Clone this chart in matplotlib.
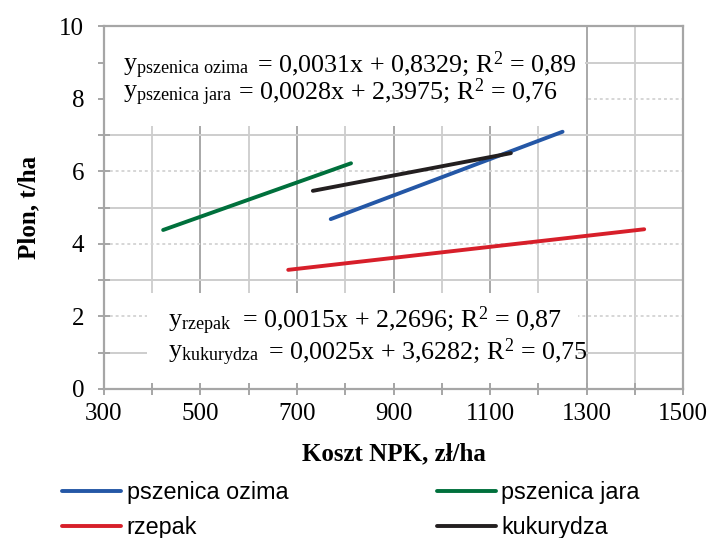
import matplotlib
matplotlib.use("Agg")
import matplotlib.pyplot as plt
import numpy as np
from matplotlib.patches import Rectangle
from matplotlib.ticker import FixedLocator

# data
series = ["pszenica ozima", "pszenica jara", "rzepak", "kukurydza"]
cost_start = [770, 423, 682, 733]
cost_end = [1250, 812, 1419, 1143]
yield_start = [4.68, 4.38, 3.28, 5.46]
yield_end = [7.09, 6.22, 4.40, 6.50]
colors = ["#2457A6", "#00703C", "#D71F2A", "#231F20"]

x_major = np.arange(300, 1501, 200)
x_minor = np.arange(400, 1500, 200)
y_major = np.arange(0, 11, 2)
y_minor = np.arange(1, 10, 2)

# trendline labels: left part (y with subscript) and right part (equation)
eq_lhs = [
    r"$\mathrm{y}_{\mathrm{pszenica\ ozima}}$",
    r"$\mathrm{y}_{\mathrm{pszenica\ jara}}$",
    r"$\mathrm{y}_{\mathrm{rzepak}}$",
    r"$\mathrm{y}_{\mathrm{kukurydza}}$",
]
eq_rhs = [
    "= 0,0031x + 0,8329; R$^{2}$ = 0,89",
    "= 0,0028x + 2,3975; R$^{2}$ = 0,76",
    "= 0,0015x + 2,2696; R$^{2}$ = 0,87",
    "= 0,0025x + 3,6282; R$^{2}$ = 0,75",
]

plt.rcParams["font.family"] = "Liberation Serif"
plt.rcParams["mathtext.fontset"] = "custom"
plt.rcParams["mathtext.rm"] = "Liberation Serif"
plt.rcParams["mathtext.it"] = "Liberation Serif:italic"
plt.rcParams["mathtext.bf"] = "Liberation Serif:bold"

fig = plt.figure(figsize=(7.12, 5.38), dpi=100)
ax = fig.add_axes([0.1457, 0.2774, 0.8140, 0.6738])

ax.set_xlim(300, 1500)
ax.set_ylim(0, 10)
ax.xaxis.set_major_locator(FixedLocator(x_major))
ax.xaxis.set_minor_locator(FixedLocator(x_minor))
ax.yaxis.set_major_locator(FixedLocator(y_major))
ax.yaxis.set_minor_locator(FixedLocator(y_minor))

# grid: dark/light verticals, dotted/solid horizontals
ax.grid(which="major", axis="x", color="#A8A8A8", lw=1.4)
ax.grid(which="minor", axis="x", color="#D0D0D0", lw=1.4)
ax.grid(which="major", axis="y", color="#D6D6D6", lw=1.4, ls=(0, (1.5, 1.5)))
ax.grid(which="minor", axis="y", color="#CDCDCD", lw=1.4)
ax.set_axisbelow(True)

gray = "#A6A6A6"
for sp in ax.spines.values():
    sp.set_color(gray)
    sp.set_linewidth(1.6)
ax.tick_params(which="both", direction="inout", length=8, width=1.4, color=gray)
ax.tick_params(axis="both", which="major", labelsize=18)
ax.tick_params(axis="x", pad=6)
ax.tick_params(axis="y", pad=10)

for i, name in enumerate(series):
    ax.plot([cost_start[i], cost_end[i]], [yield_start[i], yield_end[i]],
            color=colors[i], lw=2.8, solid_capstyle="round", label=name, zorder=3)

# white boxes behind the trendline equations
ax.add_patch(Rectangle((0.0, 0.726), 0.83, 0.274, transform=ax.transAxes,
                       facecolor="white", edgecolor="none", zorder=2))
ax.add_patch(Rectangle((0.075, 0.016), 0.743, 0.248, transform=ax.transAxes,
                       facecolor="white", edgecolor="none", zorder=2))

eq_size = 18.7
lhs_x = [0.0333, 0.0333, 0.1109, 0.1109]
rhs_x = [0.2645, 0.2317, 0.2386, 0.2835]
base_y = [0.8752, 0.8007, 0.1703, 0.0834]
for k in range(4):
    ax.text(lhs_x[k], base_y[k], eq_lhs[k], transform=ax.transAxes,
            fontsize=eq_size, va="baseline", zorder=4)
    ax.text(rhs_x[k], base_y[k], eq_rhs[k], transform=ax.transAxes,
            fontsize=eq_size, va="baseline", zorder=4)

ax.set_xlabel("Koszt NPK, zł/ha", fontsize=18, fontweight="bold", labelpad=13)
ax.set_ylabel("Plon, t/ha", fontsize=18, fontweight="bold", labelpad=14)

h, l = ax.get_legend_handles_labels()
order = [0, 2, 1, 3]
fig.legend([h[k] for k in order], [l[k] for k in order], ncol=2,
           loc="upper left", bbox_to_anchor=(0.087, 0.1057), frameon=False,
           prop={"family": "Liberation Sans", "size": 16.8},
           handlelength=2.55, handletextpad=0.22, columnspacing=6.37,
           labelspacing=0.52, borderpad=0, borderaxespad=0)

fig.savefig("out.png", dpi=100)
